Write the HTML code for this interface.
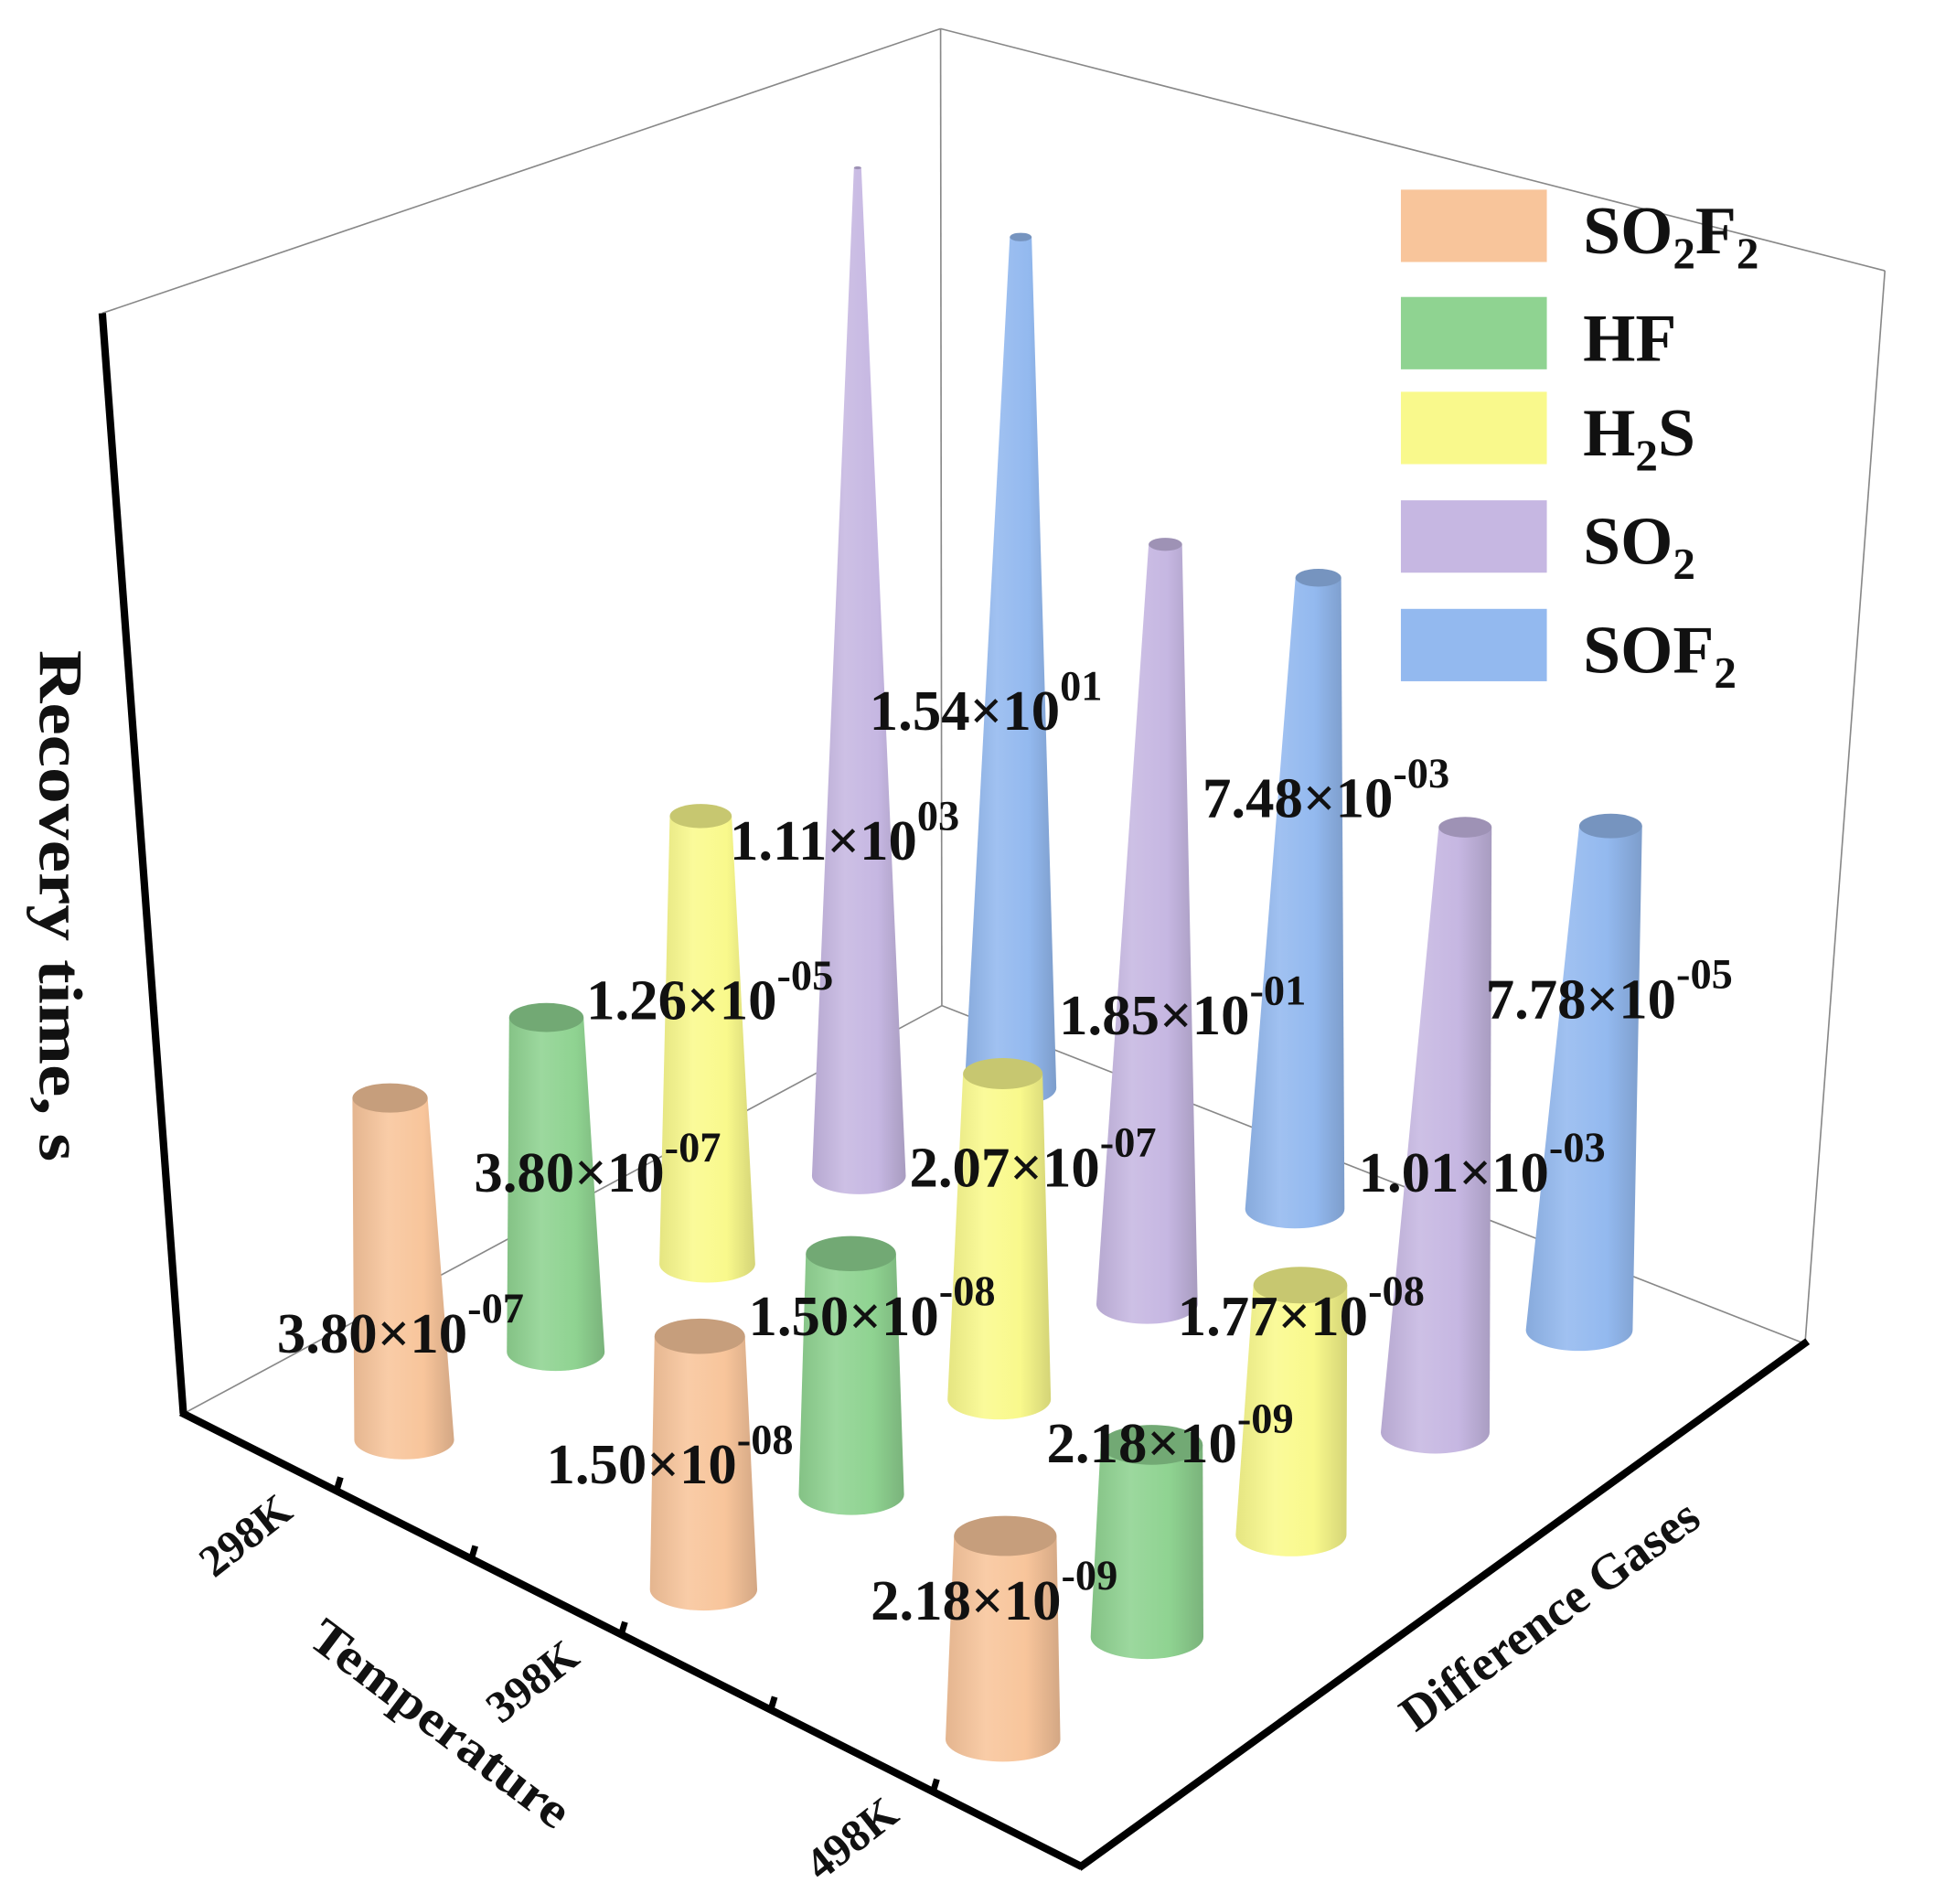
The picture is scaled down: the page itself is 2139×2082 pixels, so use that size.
<!DOCTYPE html>
<html><head><meta charset="utf-8"><style>
html,body{margin:0;padding:0;background:#fff}
svg{display:block}
text{font-family:"Liberation Serif",serif;font-weight:bold;fill:#111}
</style></head><body>
<svg id="chart" width="2139" height="2082" viewBox="0 0 1568 1526" preserveAspectRatio="none" xmlns="http://www.w3.org/2000/svg">
<defs id="defs"></defs>
<g>
<line x1="754" y1="23" x2="755" y2="806" stroke="#888" stroke-width="1.2"/>
<line x1="755" y1="806" x2="147" y2="1133" stroke="#888" stroke-width="1.2"/>
<line x1="755" y1="806" x2="1447" y2="1077" stroke="#888" stroke-width="1.2"/>
<line x1="82" y1="251" x2="754" y2="23" stroke="#888" stroke-width="1.2"/>
<line x1="754" y1="23" x2="1511" y2="217" stroke="#888" stroke-width="1.2"/>
<line x1="1511" y1="217" x2="1447" y2="1077" stroke="#888" stroke-width="1.2"/>
<line x1="82" y1="251" x2="147" y2="1133" stroke="#000" stroke-width="6"/>
<line x1="145" y1="1132" x2="867" y2="1496" stroke="#000" stroke-width="6"/>
<line x1="865" y1="1497" x2="1449" y2="1075" stroke="#000" stroke-width="6"/>
<g stroke="#000" stroke-width="5">
<line x1="270" y1="1194" x2="273" y2="1184"/><line x1="378" y1="1249" x2="381" y2="1239"/>
<line x1="498" y1="1310" x2="501" y2="1300"/><line x1="618" y1="1370" x2="621" y2="1360"/>
<line x1="748" y1="1436" x2="751" y2="1426"/>
</g>
</g>
<g id="cones"></g>
<g id="labels"></g>
<text transform="translate(32,726) rotate(90)" text-anchor="middle" font-size="50" textLength="410" lengthAdjust="spacingAndGlyphs">Recovery time, s</text>
<text transform="translate(345,1392) rotate(37)" text-anchor="middle" font-size="40" textLength="250" lengthAdjust="spacingAndGlyphs">Temperature</text>
<text transform="translate(1250,1305) rotate(-36)" text-anchor="middle" font-size="40" textLength="285" lengthAdjust="spacingAndGlyphs">Difference Gases</text>
<text transform="translate(204,1240) rotate(-38)" text-anchor="middle" font-size="36">298K</text>
<text transform="translate(434,1357) rotate(-38)" text-anchor="middle" font-size="36">398K</text>
<text transform="translate(690,1483) rotate(-38)" text-anchor="middle" font-size="36">498K</text>
<g id="legend"></g>
</svg>
<script>
const temps = ['298K','398K','498K'];
const gases = ['SO2F2','HF','H2S','SO2','SOF2'];
const colors = ['#f8c59b','#8fd391','#f9f98c','#c6b7e2','#93b9ef'];
const heights298 = [2.74, 2.68, 3.59, 8.08, 6.82];
const heights398 = [2.03, 1.93, 2.61, 6.09, 5.06];
const heights498 = [1.63, 1.54, 2.00, 4.85, 4.04];
const labels298 = ['3.80×10|-07','3.80×10|-07','1.26×10|-05','1.11×10|03','1.54×10|01'];
const labels398 = ['1.50×10|-08','1.50×10|-08','2.07×10|-07','1.85×10|-01','7.48×10|-03'];
const labels498 = ['2.18×10|-09','2.18×10|-09','1.77×10|-08','1.01×10|-03','7.78×10|-05'];
const heights = [heights298, heights398, heights498];
const labels = [labels298, labels398, labels498];
const legendNames = [['SO','2','F','2'],['HF'],['H','2','S'],['SO','2'],['SOF','2']];

const NS='http://www.w3.org/2000/svg';
const unitPx = 100, maxH = 8.7;
const C00=[324,1154], C04=[810,872], C20=[804,1394], C24=[1266,1066];
function base(i,j){
  const u=j/4, v=i/2;
  const a=[C00[0]+(C04[0]-C00[0])*u, C00[1]+(C04[1]-C00[1])*u];
  const b=[C20[0]+(C24[0]-C20[0])*u, C20[1]+(C24[1]-C20[1])*u];
  return [a[0]+(b[0]-a[0])*v, a[1]+(b[1]-a[1])*v];
}
function zPx(h){return h*unitPx;}
function shade(hex,f){
  const n=parseInt(hex.slice(1),16);let r=n>>16,g=(n>>8)&255,b=n&255;
  const m=c=>Math.max(0,Math.min(255,Math.round(f<1?c*f:c+(255-c)*(f-1))));
  return '#'+[m(r),m(g),m(b)].map(c=>c.toString(16).padStart(2,'0')).join('');
}
const defs=document.getElementById('defs');
colors.forEach((c,k)=>{
  const g=document.createElementNS(NS,'linearGradient');
  g.setAttribute('id','g'+k);
  [[0,shade(c,0.92)],[0.35,shade(c,1.12)],[0.7,c],[1,shade(c,0.85)]].forEach(([o,col])=>{
    const s=document.createElementNS(NS,'stop');s.setAttribute('offset',o);s.setAttribute('stop-color',col);g.appendChild(s);
  });
  defs.appendChild(g);
});
const items=[];
for(let i=0;i<3;i++)for(let j=0;j<5;j++)items.push([i,j]);
items.sort((a,b)=>base(a[0],a[1])[1]-base(b[0],b[1])[1]);
const cg=document.getElementById('cones');
items.forEach(([i,j])=>{
  const [bx,by]=base(i,j);
  const h=heights[i][j];
  const rb=40+3*i-0.8*j;
  const ty=by-zPx(h);
  const rt=Math.max(1.2, rb*(1-h/maxH)*1.1);
  const tx=bx+(bx-700)*zPx(h)*1.1e-4;
  const ryb=rb*0.39, ryt=rt*0.39;
  const g=document.createElementNS(NS,'g');
  
  
  const p=document.createElementNS(NS,'path');
  p.setAttribute('d',`M${bx-rb},${by} L${tx-rt},${ty} L${tx+rt},${ty} L${bx+rb},${by} A${rb},${ryb} 0 0 1 ${bx-rb},${by} Z`);
  p.setAttribute('fill','url(#g'+j+')');
  g.appendChild(p);
  const e=document.createElementNS(NS,'ellipse');
  e.setAttribute('cx',tx);e.setAttribute('cy',ty);e.setAttribute('rx',rt);e.setAttribute('ry',ryt);
  e.setAttribute('fill',shade(colors[j],0.8));
  g.appendChild(e);
  cg.appendChild(g);
});
const labelPos=[[[222,1084],[380,955],[470,817],[585,689],[697,585]],
                [[438,1189],[600,1070],[729,951],[849,829],[964,655]],
                [[698,1298],[839,1172],[944,1070],[1089,955],[1191,816]]];
const lg=document.getElementById('labels');
for(let i=0;i<3;i++)for(let j=0;j<5;j++){
  const [m,ex]=labels[i][j].split('|');
  const t=document.createElementNS(NS,'text');
  
  
  t.setAttribute('x',labelPos[i][j][0]);t.setAttribute('y',labelPos[i][j][1]);
  t.setAttribute('font-size','46');
  const s1=document.createElementNS(NS,'tspan');s1.textContent=m;t.appendChild(s1);
  const s2=document.createElementNS(NS,'tspan');s2.setAttribute('dy','-24');s2.setAttribute('font-size','34');s2.textContent=ex;t.appendChild(s2);
  lg.appendChild(t);
}
const leg=document.getElementById('legend');
const legY=[152,238,314,401,488];
legendNames.forEach((parts,k)=>{
  const r=document.createElementNS(NS,'rect');
  
  
  r.setAttribute('x',1123);r.setAttribute('y',legY[k]);r.setAttribute('width',117);r.setAttribute('height',58);
  r.setAttribute('fill',colors[k]);
  leg.appendChild(r);
  const t=document.createElementNS(NS,'text');
  
  
  t.setAttribute('x',1269);t.setAttribute('y',legY[k]+51);t.setAttribute('font-size','54');
  parts.forEach((p,q)=>{
    const s=document.createElementNS(NS,'tspan');
    if(q%2===1){s.setAttribute('font-size','36');s.setAttribute('dy','12');}
    else if(q>0){s.setAttribute('dy','-12');}
    s.textContent=p;t.appendChild(s);
  });
  leg.appendChild(t);
});
</script>
</body></html>
